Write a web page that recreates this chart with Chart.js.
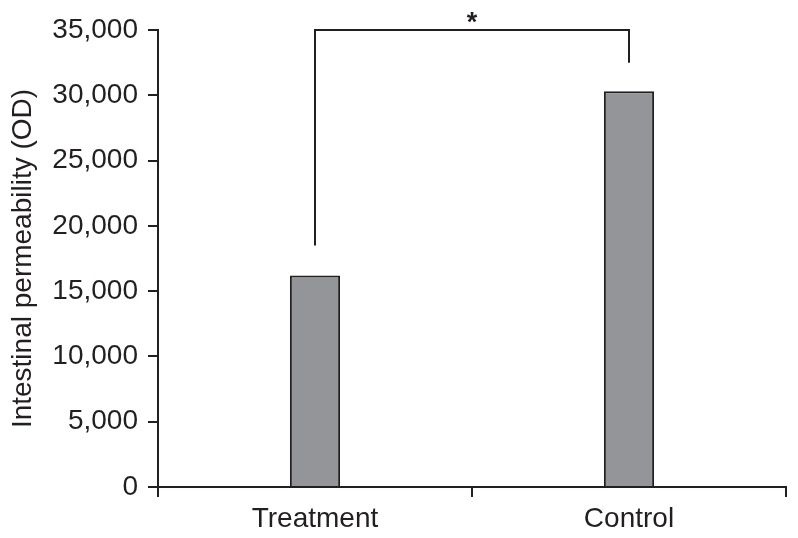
<!DOCTYPE html>
<html>
<head>
<meta charset="utf-8">
<script src="https://cdn.jsdelivr.net/npm/chart.js@4.4.0/dist/chart.umd.min.js"></script>
<style>
  html, body { margin: 0; padding: 0; background: #fff; }
  #wrap { width: 798px; height: 538px; }
</style>
</head>
<body>
<div id="wrap"><canvas id="chart"></canvas></div>
<script>
const categories = ["Treatment", "Control"];
const permeability = [16200, 30300];
const yMax = 35000;
const yStep = 5000;
// significance bracket: left leg bottom, right leg bottom, top bar level
const bracketEnds = [18500, 32500];
const bracketTop = 35000;
const bracketLabel = "*";

const ink = "#231f20";
const fontFamily = "'Liberation Sans', Arial, Helvetica, sans-serif";

const bracketPlugin = {
  id: "bracket",
  afterDatasetsDraw(chart) {
    const ctx = chart.ctx;
    const x = chart.scales.x;
    const y = chart.scales.y;
    const x0 = x.getPixelForValue(0);
    const x1 = x.getPixelForValue(1);
    const yTop = y.getPixelForValue(bracketTop);
    ctx.save();
    ctx.strokeStyle = ink;
    ctx.lineWidth = 2;
    ctx.beginPath();
    ctx.moveTo(x0, y.getPixelForValue(bracketEnds[0]));
    ctx.lineTo(x0, yTop);
    ctx.lineTo(x1, yTop);
    ctx.lineTo(x1, y.getPixelForValue(bracketEnds[1]));
    ctx.stroke();
    ctx.fillStyle = ink;
    ctx.font = "bold 27px " + fontFamily;
    ctx.textAlign = "center";
    ctx.textBaseline = "alphabetic";
    ctx.fillText(bracketLabel, (x0 + x1) / 2, yTop + 1);
    ctx.restore();
  }
};

new Chart(document.getElementById("chart").getContext("2d"), {
  type: "bar",
  data: {
    labels: categories,
    datasets: [{
      data: permeability,
      backgroundColor: "#939598",
      borderColor: ink,
      borderWidth: 2,
      barPercentage: 0.16,
      categoryPercentage: 1
    }]
  },
  options: {
    responsive: true,
    maintainAspectRatio: false,
    animation: false,
    layout: { padding: { top: 30, right: 12, left: 0, bottom: 0 } },
    plugins: { legend: { display: false }, tooltip: { enabled: false } },
    scales: {
      x: {
        grid: { display: true, drawOnChartArea: false, drawTicks: true, tickLength: 10, color: ink, lineWidth: 2 },
        border: { display: true, color: ink, width: 2 },
        ticks: { color: ink, font: { size: 28, family: fontFamily }, padding: 5 },
        afterFit: (s) => { s.height = 51; }
      },
      y: {
        min: 0,
        max: yMax,
        grid: { display: true, drawOnChartArea: false, drawTicks: true, tickLength: 10, color: ink, lineWidth: 2 },
        border: { display: true, color: ink, width: 2 },
        ticks: {
          stepSize: yStep,
          color: ink,
          font: { size: 28, family: fontFamily },
          padding: 10,
          callback: (v) => v.toLocaleString("en-US")
        },
        title: {
          display: true,
          text: "Intestinal permeability (OD)",
          color: ink,
          font: { size: 28, family: fontFamily },
          padding: { top: 6, bottom: 0 }
        },
        afterFit: (s) => { s.width = 158; }
      }
    }
  },
  plugins: [bracketPlugin]
});
</script>
</body>
</html>
